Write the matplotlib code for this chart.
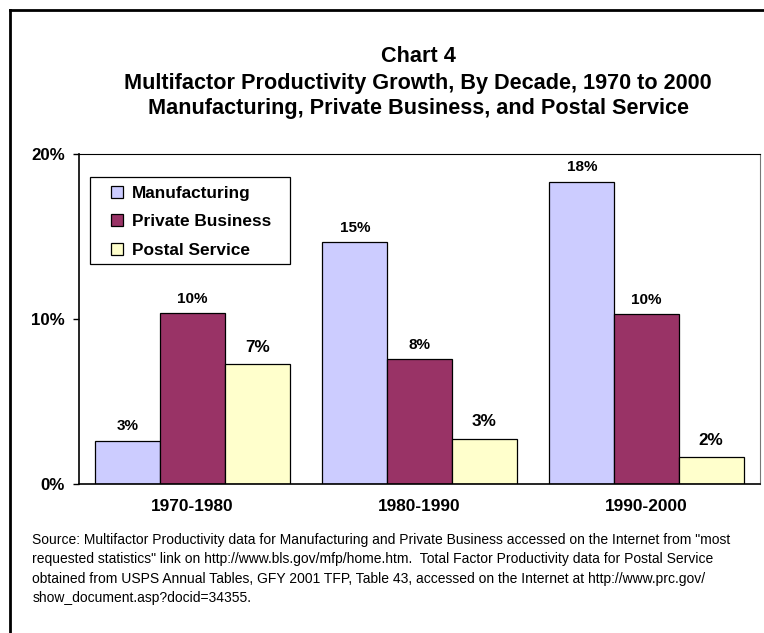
import numpy as np
import matplotlib.pyplot as plt
from matplotlib.patches import Rectangle
from matplotlib.lines import Line2D

plt.rcParams['font.family'] = ['Liberation Sans', 'DejaVu Sans']

# Data (percent growth per decade)
decades = ['1970-1980', '1980-1990', '1990-2000']
manufacturing = [2.62, 14.65, 18.32]
private_business = [10.35, 7.56, 10.28]
postal_service = [7.25, 2.73, 1.62]
series_names = ['Manufacturing', 'Private Business', 'Postal Service']
yticks = [0, 10, 20]

colours = ['#CCCCFF', '#993366', '#FFFFCC']

W, H = 764, 633
fig = plt.figure(figsize=(W / 100, H / 100), dpi=100)

# outer frame (only left and top edges are visible in the original)
fig.add_artist(Line2D([9.5 / W, 9.5 / W], [0, 1 - 9.5 / H], color='black', lw=2.0))
fig.add_artist(Line2D([9.5 / W, 1], [1 - 9.5 / H, 1 - 9.5 / H], color='black', lw=2.0))

# title, three centred lines
title_lines = ['Chart 4',
               'Multifactor Productivity Growth, By Decade, 1970 to 2000',
               'Manufacturing, Private Business, and Postal Service']
for line, yb in zip(title_lines, [62.5, 88.5, 114.0]):
    fig.text(418 / W, 1 - yb / H, line, ha='center', va='baseline',
             fontsize=15.6, fontweight='bold')

ax = fig.add_axes([79 / W, 1 - 484 / H, (760 - 79) / W, (484 - 154) / H])

x = np.arange(len(decades))
width = 0.285
for i, (vals, col) in enumerate(zip([manufacturing, private_business, postal_service], colours)):
    b = ax.bar(x + (i - 1) * width, vals, width, color=col, edgecolor='black',
               linewidth=0.9, label=series_names[i], zorder=2)
    fs = 12.3 if i == 2 else 11
    off = 9 if i == 2 else 7.5
    for rect, v in zip(b, vals):
        ax.annotate('%d%%' % round(v), (rect.get_x() + rect.get_width() / 2, v),
                    xytext=(0, off), textcoords='offset points', ha='center',
                    va='baseline', fontsize=fs, fontweight='bold')

ax.set_xlim(-0.5, 2.5)
ax.set_ylim(0, 20)
ax.set_yticks(yticks)
ax.set_yticklabels(['%d%%' % t for t in yticks], fontsize=12.2, fontweight='bold')
ax.set_xticks(x)
ax.set_xticklabels(decades, fontsize=12.4, fontweight='bold')
ax.tick_params(axis='y', direction='out', length=4.5, width=1.0, pad=5.5)
ax.tick_params(axis='x', length=0, pad=10.5)

for side in ['left', 'bottom']:
    ax.spines[side].set_linewidth(1.2)
ax.spines['top'].set_linewidth(0.8)
ax.spines['right'].set_linewidth(0.8)
ax.spines['right'].set_color('#777777')

# legend: frameless, box drawn separately to match the padding
leg = fig.legend(loc='upper left', bbox_to_anchor=(110.7 / W, 1 - 185.5 / H),
                 frameon=False, borderpad=0, borderaxespad=0,
                 handlelength=0.7, handleheight=0.7, handletextpad=0.52,
                 labelspacing=0.8, prop={'weight': 'bold', 'size': 12.4})
fig.add_artist(Rectangle((90.3 / W, 1 - 264.3 / H), (289.7 - 90.3) / W, (264.3 - 177.3) / H,
                         transform=fig.transFigure, fill=False, edgecolor='black', lw=0.9))

source = ('Source: Multifactor Productivity data for Manufacturing and Private Business accessed on the Internet from "most\n'
          'requested statistics" link on http://www.bls.gov/mfp/home.htm.  Total Factor Productivity data for Postal Service\n'
          'obtained from USPS Annual Tables, GFY 2001 TFP, Table 43, accessed on the Internet at http://www.prc.gov/\n'
          'show_document.asp?docid=34355.')
fig.text(32.3 / W, 1 - 533 / H, source, ha='left', va='top', fontsize=10,
         linespacing=1.48)

plt.savefig('out.png', dpi=100)
